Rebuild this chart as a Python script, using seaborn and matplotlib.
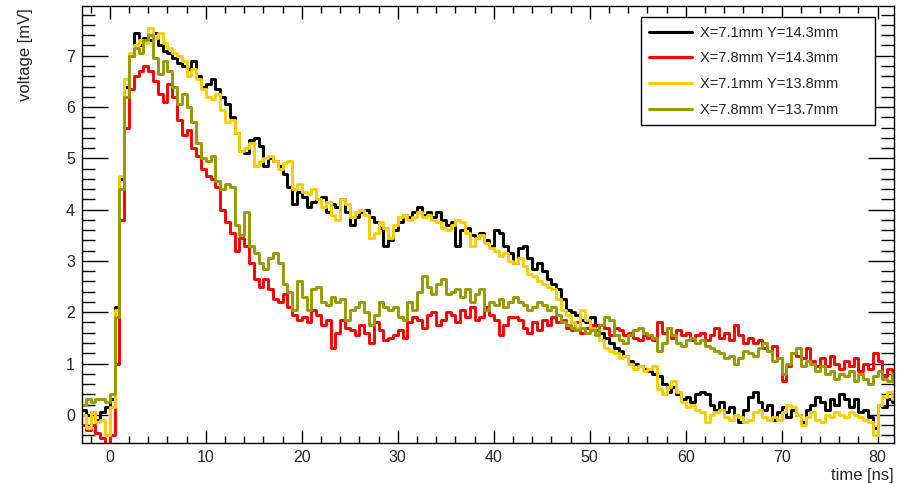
import numpy as np
import pandas as pd
import matplotlib
matplotlib.use('Agg')
import matplotlib.pyplot as plt
import seaborn as sns
from matplotlib.ticker import MultipleLocator

# bin centres of the scope traces (0.5 ns bins)
time_ns = np.arange(-2.75, 82, 0.5)

labels = ['X=7.1mm Y=14.3mm', 'X=7.8mm Y=14.3mm', 'X=7.1mm Y=13.8mm', 'X=7.8mm Y=13.7mm']
colors = ['#000000', '#ff0000', '#ffcc00', '#999900']

# voltage [mV], 10 bins (5 ns) per row
v_black = [
    0.10, 0.00, 0.05, -0.10, 0.05, 0.15, 0.30, 2.10, 4.60, 6.40,
    7.00, 7.45, 7.20, 7.35, 7.30, 7.45, 7.20, 7.10, 7.05, 6.95,
    6.85, 6.80, 6.75, 6.90, 6.60, 6.40, 6.45, 6.55, 6.35, 6.20,
    6.05, 5.80, 5.50, 5.15, 5.10, 5.35, 5.40, 5.25, 4.85, 5.00,
    4.95, 4.85, 4.70, 4.45, 4.10, 4.35, 4.25, 4.05, 4.15, 4.20,
    4.25, 3.95, 4.10, 4.05, 4.20, 3.95, 3.70, 3.85, 3.95, 4.00,
    3.85, 3.75, 3.65, 3.30, 3.40, 3.60, 3.75, 3.90, 3.85, 3.95,
    4.05, 3.90, 3.95, 3.85, 3.95, 3.80, 3.70, 3.75, 3.30, 3.60,
    3.65, 3.50, 3.45, 3.55, 3.40, 3.30, 3.60, 3.55, 3.30, 3.15,
    2.95, 3.25, 3.30, 3.05, 2.85, 2.95, 2.80, 2.65, 2.55, 2.45,
    2.25, 2.05, 2.00, 1.95, 1.85, 1.80, 1.90, 1.75, 1.60, 1.50,
    1.40, 1.30, 1.25, 1.15, 1.05, 1.00, 0.95, 0.90, 0.85, 0.80,
    0.75, 0.60, 0.45, 0.55, 0.40, 0.30, 0.35, 0.25, 0.40, 0.45,
    0.40, 0.20, 0.10, 0.25, 0.05, 0.15, 0.00, -0.15, 0.10, 0.35,
    0.45, 0.25, 0.10, 0.20, -0.10, 0.05, 0.15, -0.05, 0.10, 0.00,
    -0.15, 0.10, 0.20, 0.35, 0.25, 0.10, 0.30, 0.20, 0.40, 0.30,
    0.15, 0.30, 0.05, 0.10, -0.05, -0.25, 0.20, 0.15, 0.30, 0.25,
]

v_red = [
    -0.20, -0.30, -0.20, -0.35, -0.45, -0.60, -0.40, 1.00, 3.80, 5.60,
    6.35, 6.60, 6.70, 6.80, 6.70, 6.50, 6.25, 6.10, 6.45, 6.20,
    5.75, 5.45, 5.55, 5.20, 5.05, 4.80, 4.65, 4.60, 4.45, 4.00,
    3.75, 3.55, 3.20, 3.45, 3.30, 2.95, 2.65, 2.50, 2.65, 2.45,
    2.25, 2.20, 2.35, 2.10, 1.95, 1.85, 1.90, 1.80, 2.05, 1.95,
    1.75, 1.85, 1.30, 1.60, 1.85, 1.70, 1.65, 1.55, 1.75, 1.60,
    1.40, 1.80, 1.65, 1.45, 1.50, 1.55, 1.65, 1.50, 1.80, 1.90,
    1.85, 1.70, 1.95, 2.00, 1.75, 1.85, 2.00, 1.95, 1.80, 2.05,
    1.90, 2.10, 1.85, 1.90, 2.10, 1.95, 1.85, 1.55, 1.75, 1.90,
    1.90, 1.85, 1.70, 1.60, 1.80, 1.65, 1.85, 1.75, 1.90, 1.80,
    1.85, 1.70, 1.65, 1.80, 1.60, 1.70, 1.75, 1.65, 1.75, 1.70,
    1.55, 1.70, 1.65, 1.55, 1.60, 1.50, 1.45, 1.55, 1.50, 1.45,
    1.80, 1.60, 1.70, 1.50, 1.65, 1.55, 1.60, 1.45, 1.55, 1.60,
    1.45, 1.55, 1.70, 1.50, 1.60, 1.45, 1.75, 1.55, 1.40, 1.50,
    1.40, 1.45, 1.30, 1.25, 1.35, 1.10, 0.65, 0.95, 1.20, 1.15,
    1.10, 1.30, 1.05, 0.95, 1.10, 0.95, 1.15, 1.00, 0.90, 1.05,
    0.95, 1.10, 0.85, 1.00, 0.90, 1.20, 1.05, 0.75, 0.90, 0.85,
]

v_yellow = [
    0.00, -0.25, 0.05, -0.15, -0.10, -0.40, 0.15, 2.05, 4.65, 6.55,
    7.05, 7.20, 7.30, 7.25, 7.55, 7.35, 7.45, 7.25, 7.15, 7.05,
    7.00, 6.90, 6.60, 6.75, 6.55, 6.35, 6.20, 6.15, 6.25, 5.95,
    5.70, 5.75, 5.50, 5.15, 5.20, 5.30, 4.85, 4.95, 5.00, 5.05,
    4.95, 4.80, 4.90, 4.95, 4.40, 4.50, 4.35, 4.30, 4.40, 4.20,
    4.05, 4.15, 3.90, 3.80, 4.20, 4.10, 3.85, 3.95, 4.00, 3.90,
    3.45, 3.55, 3.75, 3.65, 3.45, 3.70, 3.85, 3.90, 3.80, 3.85,
    3.95, 3.85, 3.90, 3.80, 3.75, 3.65, 3.60, 3.70, 3.80, 3.75,
    3.55, 3.30, 3.45, 3.50, 3.35, 3.25, 3.20, 3.10, 3.15, 3.00,
    2.95, 3.05, 2.90, 2.75, 2.70, 2.60, 2.55, 2.50, 2.45, 2.25,
    2.05, 1.95, 1.80, 1.70, 2.05, 1.85, 1.70, 1.60, 1.45, 1.30,
    1.25, 1.20, 1.10, 1.15, 1.00, 0.90, 0.95, 0.85, 0.90, 0.95,
    0.50, 0.40, 0.55, 0.65, 0.45, 0.25, 0.15, 0.20, 0.10, 0.05,
    -0.15, 0.00, 0.05, 0.10, -0.05, -0.10, 0.00, -0.05, -0.15, -0.10,
    0.05, 0.10, -0.05, -0.10, -0.05, -0.10, 0.05, 0.20, 0.15, 0.00,
    -0.20, -0.05, 0.05, -0.10, -0.15, 0.00, -0.05, 0.05, 0.00, -0.05,
    0.05, 0.00, -0.05, -0.10, -0.15, -0.40, 0.20, 0.35, 0.45, 0.30,
]

v_olive = [
    0.20, 0.30, 0.25, 0.30, 0.30, 0.25, 0.40, 1.90, 4.40, 6.20,
    7.00, 7.15, 7.05, 7.30, 7.40, 6.95, 6.65, 6.90, 6.70, 6.40,
    6.05, 6.25, 6.00, 5.70, 5.30, 5.00, 4.95, 5.05, 4.55, 4.40,
    4.50, 4.45, 3.70, 3.50, 3.95, 3.30, 3.15, 2.95, 2.85, 3.05,
    3.15, 2.95, 2.55, 2.40, 2.05, 2.60, 2.30, 2.05, 2.45, 2.50,
    2.20, 2.15, 2.30, 2.20, 2.25, 1.85, 2.05, 2.10, 2.20, 2.00,
    1.75, 1.95, 2.20, 2.10, 2.05, 2.10, 1.90, 1.85, 2.20, 2.05,
    2.40, 2.70, 2.50, 2.35, 2.55, 2.65, 2.35, 2.40, 2.45, 2.30,
    2.45, 2.20, 2.35, 2.45, 2.05, 2.20, 2.15, 2.25, 2.10, 2.20,
    2.30, 2.20, 2.15, 2.05, 2.10, 2.20, 2.15, 2.05, 2.10, 1.95,
    1.80, 1.75, 1.70, 1.65, 1.70, 1.60, 1.65, 1.55, 1.75, 1.90,
    1.85, 1.55, 1.45, 1.40, 1.55, 1.65, 1.70, 1.60, 1.55, 1.50,
    1.25, 1.40, 1.70, 1.55, 1.40, 1.35, 1.45, 1.50, 1.40, 1.45,
    1.35, 1.30, 1.25, 1.20, 1.10, 1.15, 1.00, 1.10, 1.25, 1.20,
    1.15, 1.30, 1.40, 1.25, 1.05, 1.10, 0.80, 1.00, 1.20, 1.30,
    0.95, 1.05, 1.00, 0.85, 0.95, 0.80, 0.85, 0.70, 0.80, 0.75,
    0.85, 0.65, 0.80, 0.70, 0.60, 0.75, 0.85, 0.70, 0.65, 0.80,
]

# long-form table for seaborn
df = pd.concat([
    pd.DataFrame({'time': time_ns, 'voltage': v, 'position': lab})
    for v, lab in zip([v_black, v_red, v_yellow, v_olive], labels)
], ignore_index=True)

sns.set_style('ticks')
plt.rcParams['font.family'] = ['Liberation Sans', 'DejaVu Sans']

fig = plt.figure(figsize=(9.03, 4.83), dpi=100)
ax = fig.add_axes([0.0908, 0.0828, 0.8992, 0.9048])

sns.lineplot(data=df, x='time', y='voltage', hue='position', hue_order=labels,
             palette=colors, drawstyle='steps-mid', linewidth=2.1,
             estimator=None, sort=False, ax=ax, legend=False)

ax.set_xlim(-2.9, 81.7)
ax.set_ylim(-0.55, 7.97)

# ROOT-like frame: ticks inside on all four sides
ax.xaxis.set_major_locator(MultipleLocator(10))
ax.xaxis.set_minor_locator(MultipleLocator(2))
ax.yaxis.set_major_locator(MultipleLocator(1))
ax.yaxis.set_minor_locator(MultipleLocator(0.2))
ax.tick_params(axis='x', which='both', direction='in', top=True, bottom=True,
               labelsize=11.5, pad=5, color='black', width=1)
ax.tick_params(axis='x', which='major', length=9.5)
ax.tick_params(axis='x', which='minor', length=4.8)
ax.tick_params(axis='y', which='both', direction='in', left=True, right=True,
               labelsize=11.5, pad=5, color='black', width=1)
ax.tick_params(axis='y', which='major', length=19)
ax.tick_params(axis='y', which='minor', length=9.5)
for s in ax.spines.values():
    s.set_visible(True)
    s.set_linewidth(1)
    s.set_color('black')

ax.set_xlabel('time [ns]', fontsize=12, loc='right')
ax.set_ylabel('voltage [mV]', fontsize=12, loc='top')
ax.xaxis.set_label_coords(1.0, -0.057)
ax.yaxis.set_label_coords(-0.06, 0.995)

handles = [plt.Line2D([], [], color=c, linewidth=2.2) for c in colors]
leg = ax.legend(handles, labels, loc='upper left',
                bbox_to_anchor=(0.688, 0.725, 0.289, 0.25), mode='expand',
                borderaxespad=0, fontsize=10.5, handlelength=2.9, handletextpad=0.6,
                labelspacing=0.8, borderpad=0.6, fancybox=False, framealpha=1,
                edgecolor='black')
leg.get_frame().set_linewidth(1)

fig.savefig('out.png', dpi=100)
